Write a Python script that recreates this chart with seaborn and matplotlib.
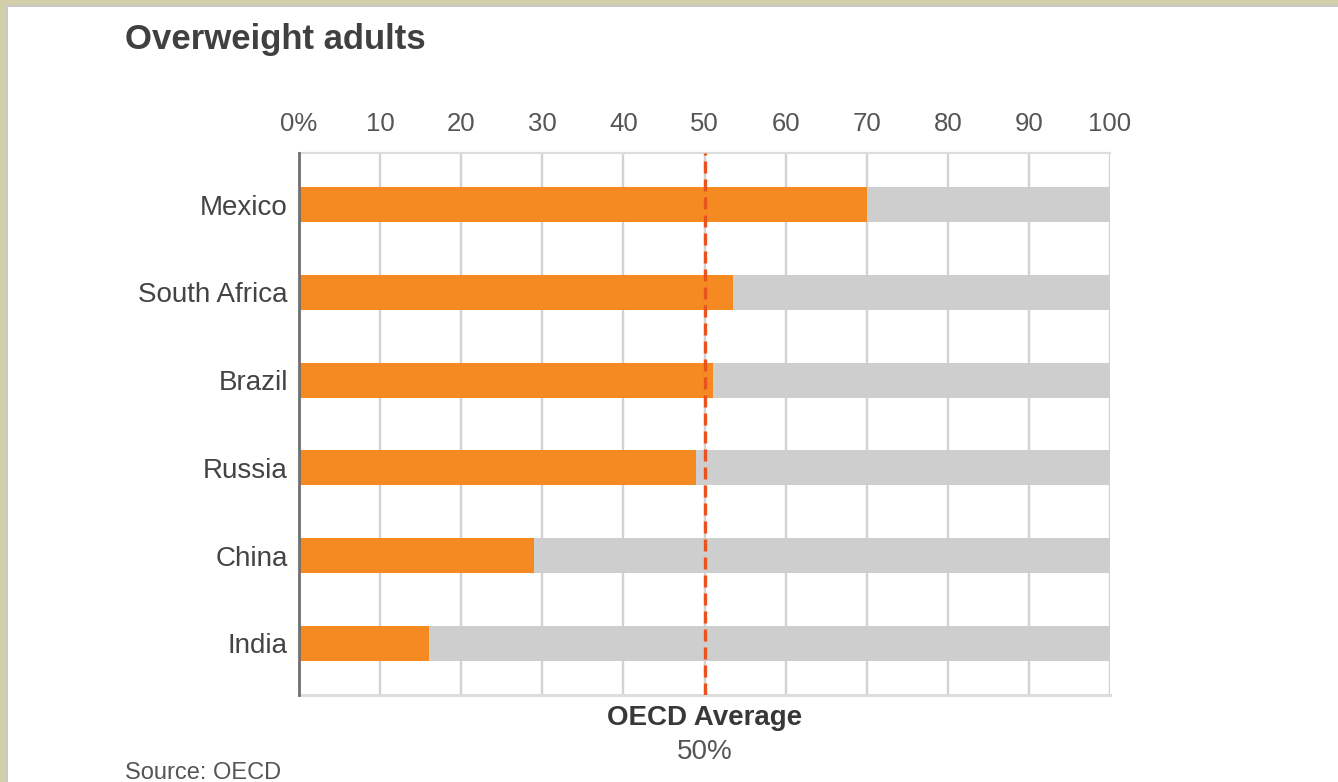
import matplotlib
matplotlib.use("Agg")
import matplotlib.pyplot as plt
import seaborn as sns
import pandas as pd
from matplotlib.patches import Rectangle

countries = ["Mexico", "South Africa", "Brazil", "Russia", "China", "India"]
overweight_pct = [70, 53.5, 51, 49, 29, 16]
full_scale = [100, 100, 100, 100, 100, 100]
tick_values = [0, 10, 20, 30, 40, 50, 60, 70, 80, 90, 100]
tick_labels = ["0%", "10", "20", "30", "40", "50", "60", "70", "80", "90", "100"]
oecd_average = 50

sns.set_style("white")
plt.rcParams["font.family"] = ["Liberation Sans", "DejaVu Sans"]

df = pd.DataFrame({"country": countries, "value": overweight_pct, "full": full_scale})

fig = plt.figure(figsize=(13.38, 7.82), dpi=100)
fig.patch.set_facecolor("white")
ax = fig.add_axes([0.2235, 0.1113, 0.8296 - 0.2235, 0.8043 - 0.1113])

sns.barplot(data=df, y="country", x="full", order=countries, orient="h",
            color="#cecece", width=0.4, ax=ax, zorder=2, saturation=1, linewidth=0)
sns.barplot(data=df, y="country", x="value", order=countries, orient="h",
            color="#f58a22", width=0.4, ax=ax, zorder=3, saturation=1, linewidth=0)

ax.set_xlim(0, 100)
ax.set_ylim(len(countries) - 0.41, -0.59)
ax.set_xticks(tick_values)
ax.set_xticklabels(tick_labels)
ax.xaxis.tick_top()
ax.tick_params(axis="x", length=0, pad=12, labelsize=18.5, labelcolor="#555555")
ax.tick_params(axis="y", length=0, pad=8, labelsize=20, labelcolor="#444444")
ax.set_xlabel("")
ax.set_ylabel("")
ax.set_axisbelow(True)
ax.xaxis.grid(True, color="#d2d2d2", linewidth=1.7, zorder=0)
ax.yaxis.grid(False)

ax.spines["right"].set_visible(False)
ax.spines["top"].set_color("#dddddd")
ax.spines["top"].set_linewidth(1.6)
ax.spines["bottom"].set_color("#dddddd")
ax.spines["bottom"].set_linewidth(2.2)
ax.spines["left"].set_color("#707070")
ax.spines["left"].set_linewidth(2.0)
ax.spines["left"].set_zorder(5)

ax.axvline(oecd_average, color="#e8531e", linewidth=2.4, linestyle=(0, (3.6, 1.8)), zorder=6)

xa = ax.transData.transform((oecd_average, 0))[0] / fig.bbox.width
fig.text(xa, 1 - 718 / 782, "OECD Average", ha="center", va="center",
         fontsize=20, fontweight="bold", color="#383838")
fig.text(xa, 1 - 752 / 782, f"{oecd_average}%", ha="center", va="center",
         fontsize=20, color="#555555")

fig.text(125 / 1338, 1 - 40 / 782, "Overweight adults", ha="left", va="center",
         fontsize=25, fontweight="bold", color="#404040")
fig.text(125 / 1338, 1 - 773 / 782, "Source: OECD", ha="left", va="center",
         fontsize=17, color="#555555")

# beige frame at top and left
W, H = 1338, 782
fig.patches.append(Rectangle((0, 1 - 5 / H), 1, 5 / H, transform=fig.transFigure,
                             facecolor="#d3cfaa", edgecolor="none", zorder=10))
fig.patches.append(Rectangle((0, 1 - 7 / H), 1, 2 / H, transform=fig.transFigure,
                             facecolor="#c9c9c9", edgecolor="none", zorder=10))
fig.patches.append(Rectangle((0, 0), 6 / W, 1, transform=fig.transFigure,
                             facecolor="#d3cfaa", edgecolor="none", zorder=11))
fig.patches.append(Rectangle((6 / W, 0), 2 / W, 1 - 5 / H, transform=fig.transFigure,
                             facecolor="#c9c9c9", edgecolor="none", zorder=10))

fig.savefig("out.png", dpi=100)
